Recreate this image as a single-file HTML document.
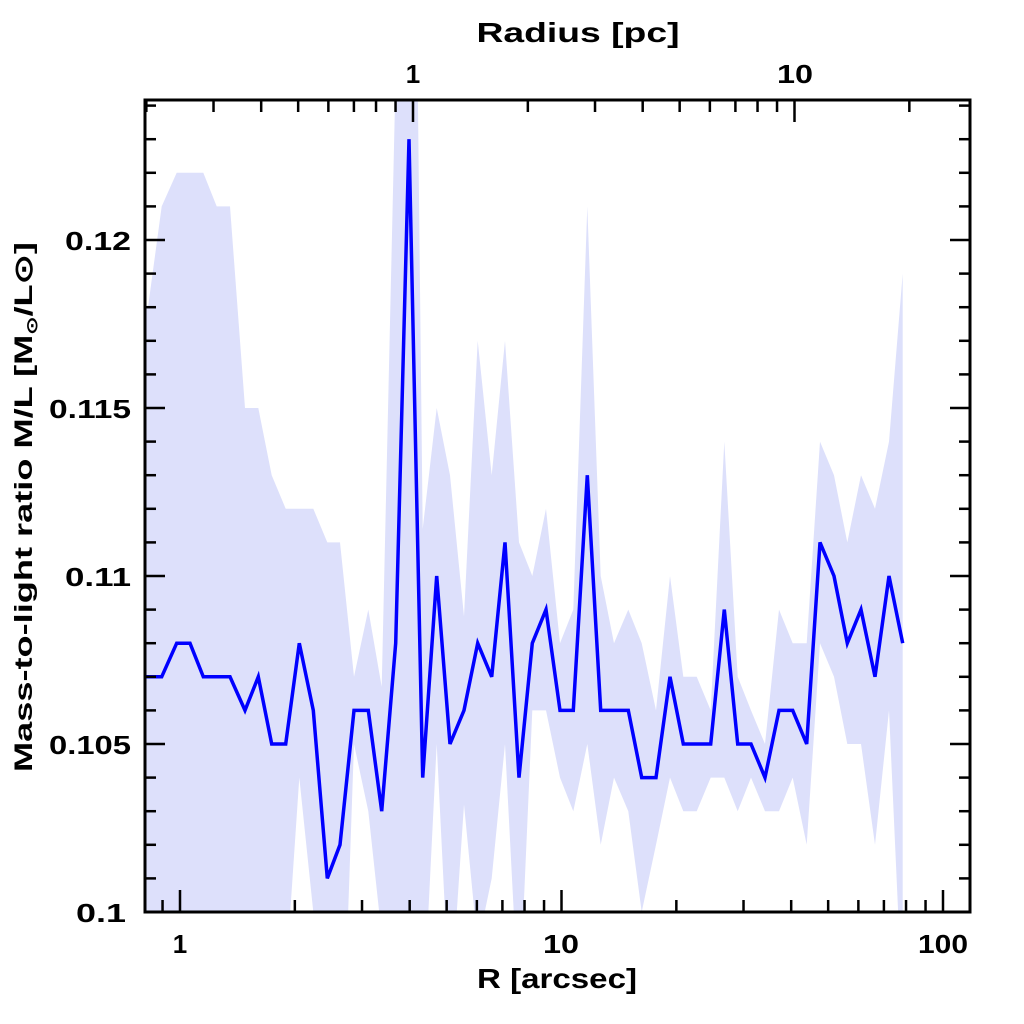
<!DOCTYPE html>
<html><head><meta charset="utf-8"><style>
html,body{margin:0;padding:0;background:#fff;overflow:hidden;width:1024px;height:1024px;}
svg{display:block;position:absolute;left:0;top:0;}
text{font-family:"Liberation Sans",sans-serif;font-weight:bold;fill:#000;}
</style></head><body>
<svg id="s" width="1024" height="1024" xmlns="http://www.w3.org/2000/svg">
<defs><clipPath id="c"><rect x="145" y="100" width="825" height="812"/></clipPath></defs>
<g id="data" clip-path="url(#c)"></g>
<g id="ticks" stroke="#000" stroke-width="2.5"></g>
<rect x="145" y="100" width="825" height="812" fill="none" stroke="#000" stroke-width="3"/>
<g font-size="26" text-anchor="end">
<text x="126" y="922" textLength="50" lengthAdjust="spacingAndGlyphs">0.1</text>
<text x="131" y="754" textLength="82" lengthAdjust="spacingAndGlyphs">0.105</text>
<text x="131" y="586" textLength="66" lengthAdjust="spacingAndGlyphs">0.11</text>
<text x="131" y="418" textLength="82" lengthAdjust="spacingAndGlyphs">0.115</text>
<text x="131" y="250" textLength="66" lengthAdjust="spacingAndGlyphs">0.12</text>
</g>
<g font-size="26" text-anchor="middle">
<text x="180" y="953">1</text>
<text x="561" y="953" textLength="36" lengthAdjust="spacingAndGlyphs">10</text>
<text x="943" y="953" textLength="50" lengthAdjust="spacingAndGlyphs">100</text>
<text x="413" y="83">1</text>
<text x="795" y="83" textLength="36" lengthAdjust="spacingAndGlyphs">10</text>
<text x="557" y="988" font-size="28" textLength="160" lengthAdjust="spacingAndGlyphs">R [arcsec]</text>
<text x="578" y="42" font-size="28" textLength="203" lengthAdjust="spacingAndGlyphs">Radius [pc]</text>
<text transform="translate(32,507) rotate(-90)" font-size="25" textLength="530" lengthAdjust="spacingAndGlyphs">Mass-to-light ratio M/L [M<tspan font-size="15" dy="5">⊙</tspan><tspan dy="-5">/L⊙]</tspan></text>
</g>
</svg>
<script>
var d=[[145,7,11],[148,7,11],[161.7,7,14],[176.7,8,14],[190,8,14],[203.3,7,15],[216.7,7,14],[230,7,14],[245,6,9],[258.3,7,8],[271.7,5,8],[285.7,5,7],[299.3,8,4],[313.3,6,6],[327.3,1,10],[340,2,9],[354,6,1],[368.3,6,3],[381.7,3,3.7],[395.7,8,17],[409,23,25],[422.7,4,7.4],[436.7,10,5],[450,5,8],[464,6,2.8],[477.7,8,9],[491.7,7,6],[505,11,6],[519,4,7],[532.3,8,2],[546,9,3],[560,6,2],[573.3,6,3],[587.3,13,8],[600.7,6,4],[614,6,2],[628.3,6,3],[641.7,4,4],[656,4,2],[670,7,3],[683.3,5,2],[696.7,5,2],[710.7,5,1],[724.3,9,5],[737.7,5,2],[751,5,1],[765,4,1],[779,6,3],[792.7,6,2],[806.7,5,3],[820,11,3],[834,10,3],[847.3,8,3],[861,9,4],[875,7,5],[889,10,4],[902.7,8,11]];
function Y(k){return 912-33.6*k;}
var up=[],lo=[],ln=[];
d.forEach(function(p){up.push(p[0]+","+Y(p[1]+p[2]));lo.unshift(p[0]+","+Y(p[1]-p[2]));ln.push(p[0]+","+Y(p[1]));});
var NS="http://www.w3.org/2000/svg";
var g=document.getElementById("data");
var pg=document.createElementNS(NS,"polygon");pg.setAttribute("points",up.concat(lo).join(" "));pg.setAttribute("fill","#dde0fb");g.appendChild(pg);
var pl=document.createElementNS(NS,"polyline");pl.setAttribute("points",ln.join(" "));pl.setAttribute("fill","none");pl.setAttribute("stroke","#0000ff");pl.setAttribute("stroke-width","3.5");pl.setAttribute("stroke-linejoin","miter");g.appendChild(pl);
var t=document.getElementById("ticks"),s="";
function L(x1,y1,x2,y2){s+='<line x1="'+x1+'" y1="'+y1+'" x2="'+x2+'" y2="'+y2+'"/>';}
for(var k=0;k<=24;k++){var y=Y(k),len=(k%5==0)?20:11;L(145,y,145+len,y);L(970,y,970-len,y);}
var D=381.5;
[0.9,1,2,3,4,5,6,7,8,9,10,20,30,40,50,60,70,80,90,100].forEach(function(v){var x=180+D*Math.log10(v);var m=(v==1||v==10||v==100);L(x,912,x,912-(m?22:12));});
[0.2,0.3,0.4,0.5,0.6,0.7,0.8,0.9,1,2,3,4,5,6,7,8,9,10,20].forEach(function(v){var x=413+D*Math.log10(v);if(x<146)return;var m=(v==1||v==10);L(x,100,x,100+(m?22:12));});
t.innerHTML=s;
</script>
</body></html>
